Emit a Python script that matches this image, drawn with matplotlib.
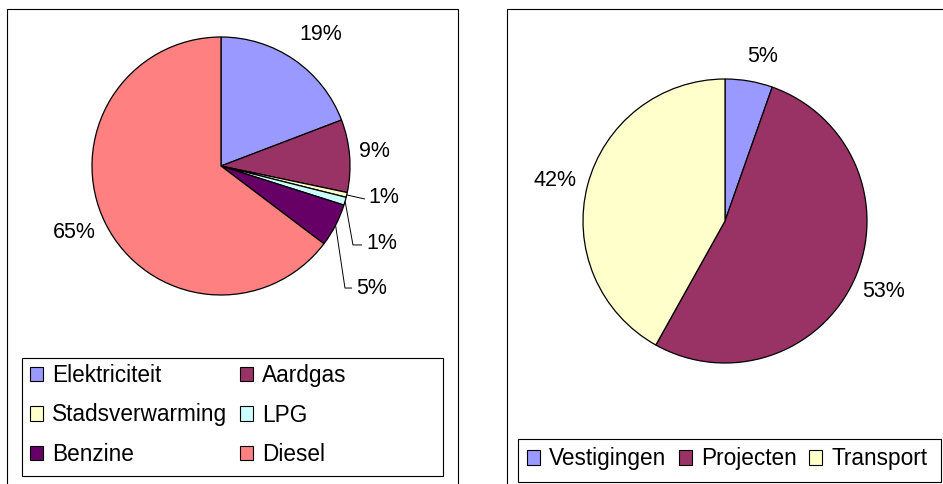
import matplotlib
matplotlib.use("Agg")
import matplotlib.pyplot as plt
from matplotlib.patches import Rectangle, Patch
import numpy as np

plt.rcParams['font.family'] = ['Liberation Sans', 'DejaVu Sans']

# ---- data ----
left_labels = ['Elektriciteit', 'Aardgas', 'Stadsverwarming', 'LPG', 'Benzine', 'Diesel']
left_values = [19.2, 9.1, 0.6, 1.0, 5.4, 64.7]
left_colors = ['#9999FF', '#993366', '#FFFFCC', '#CCFFFF', '#660066', '#FF8080']

right_labels = ['Vestigingen', 'Projecten', 'Transport']
right_values = [5.4, 52.7, 41.9]
right_colors = ['#9999FF', '#993366', '#FFFFCC']

W, H = 943, 484
FS = 15.5
LFS = 16.3
fig = plt.figure(figsize=(W / 100, H / 100), dpi=100)


def px_rect(x0, y0, x1, y1, lw=0.8):
    r = Rectangle((x0 / W, 1 - y1 / H), (x1 - x0) / W, (y1 - y0) / H,
                  transform=fig.transFigure, fill=False, edgecolor='black',
                  linewidth=lw, zorder=0)
    fig.patches.append(r)


def pie_axes(cx, cy, r, span=1.6):
    h = r * span
    ax = fig.add_axes([(cx - h) / W, 1 - (cy + h) / H, 2 * h / W, 2 * h / H])
    return ax, span


def draw_pie(ax, span, values, colors, label_pos, aligns):
    wedges, texts, autotexts = ax.pie(
        values, colors=colors, startangle=90, counterclock=False,
        autopct='%.0f%%', pctdistance=1.2,
        wedgeprops=dict(edgecolor='black', linewidth=0.9),
        textprops=dict(fontsize=FS, color='black'))
    for t, p, a in zip(autotexts, label_pos, aligns):
        t.set_position(p)
        t.set_ha(a)
        t.set_va('center')
    ax.set_xlim(-span, span)
    ax.set_ylim(-span, span)
    ax.axis('off')
    return wedges


# outer boxes
px_rect(7, 9, 458, 500)
px_rect(507, 9, 960, 500)

# ---- left pie ----
axL, spanL = pie_axes(221, 166, 129)
left_label_pos = [(0.771, 1.023), (1.186, 0.109), (1.14, -0.248),
                  (1.124, -0.597), (1.047, -0.953), (-1.14, -0.512)]
left_aligns = ['center', 'center', 'left', 'left', 'left', 'center']
wL = draw_pie(axL, spanL, left_values, left_colors, left_label_pos, left_aligns)

# leader lines for the small slices
elbows = {2: [(1.116, -0.256)],
          3: [(1.023, -0.612), (1.093, -0.612)],
          4: [(0.961, -0.946), (1.016, -0.946)]}
for i, pts in elbows.items():
    w = wL[i]
    mid = np.deg2rad((w.theta1 + w.theta2) / 2)
    xs = [np.cos(mid)] + [p[0] for p in pts]
    ys = [np.sin(mid)] + [p[1] for p in pts]
    axL.plot(xs, ys, color='black', linewidth=0.7, solid_capstyle='butt')

# ---- right pie ----
axR, spanR = pie_axes(725, 221, 142)
right_label_pos = [(0.264, 1.155), (1.12, -0.493), (-1.194, 0.282)]
draw_pie(axR, spanR, right_values, right_colors, right_label_pos,
         ['center', 'center', 'center'])

# ---- legends ----
px_rect(22, 358, 443, 476)
px_rect(518, 439, 941, 482)

order = [0, 2, 4, 1, 3, 5]
hL = [Patch(facecolor=left_colors[i], edgecolor='black', linewidth=0.8) for i in order]
fig.legend(hL, [left_labels[i] for i in order], ncol=2, loc='center left',
           bbox_to_anchor=(30 / W, 1 - 415 / H), frameon=False, fontsize=LFS,
           handlelength=0.58, handleheight=0.58, handletextpad=0.4,
           columnspacing=0.55, labelspacing=0.72, borderpad=0, borderaxespad=0)

hR = [Patch(facecolor=c, edgecolor='black', linewidth=0.8) for c in right_colors]
fig.legend(hR, right_labels, ncol=3, loc='center left',
           bbox_to_anchor=(527 / W, 1 - 459 / H), frameon=False, fontsize=LFS,
           handlelength=0.58, handleheight=0.58, handletextpad=0.4,
           columnspacing=0.55, borderpad=0, borderaxespad=0)

fig.savefig('out.png', dpi=100)
